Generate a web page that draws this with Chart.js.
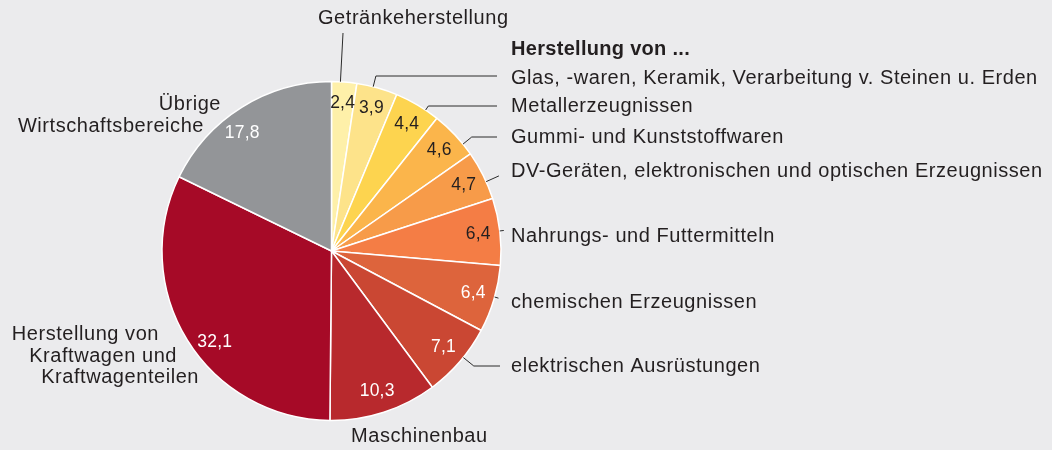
<!DOCTYPE html>
<html lang="de">
<head>
<meta charset="utf-8">
<title>Anteile der Wirtschaftsbereiche</title>
<script src="https://cdn.jsdelivr.net/npm/chart.js@4/dist/chart.umd.min.js"></script>
<style>
  html, body { margin: 0; padding: 0; background: #ebebed; }
  #wrap { width: 1052px; height: 450px; position: relative; }
</style>
</head>
<body>
<div id="wrap"><canvas id="pie" width="1052" height="450"></canvas></div>
<script>
// Anteile in Prozent, im Uhrzeigersinn ab 12 Uhr
const categoryLines = [
  ['Getränkeherstellung'],
  ['Glas, -waren, Keramik, Verarbeitung v. Steinen u. Erden'],
  ['Metallerzeugnissen'],
  ['Gummi- und Kunststoffwaren'],
  ['DV-Geräten, elektronischen und optischen Erzeugnissen'],
  ['Nahrungs- und Futtermitteln'],
  ['chemischen Erzeugnissen'],
  ['elektrischen Ausrüstungen'],
  ['Maschinenbau'],
  ['Herstellung von', 'Kraftwagen und', 'Kraftwagenteilen'],
  ['Übrige', 'Wirtschaftsbereiche']
];
const categories = categoryLines.map(l => l.join(' '));
const shares = [2.4, 3.9, 4.4, 4.6, 4.7, 6.4, 6.4, 7.1, 10.3, 32.1, 17.8];
const groupTitle = 'Herstellung von ...';

const colors = ['#fef0a9', '#fde38a', '#fdd44f', '#fbb54b', '#f79b49', '#f47d45',
                '#dd643c', '#ca4733', '#b8292d', '#a60a27', '#939598'];
const darkValue = [true, true, true, true, true, true, false, false, false, false, false];

// Beschriftungen: Textposition je Zeile, Führungslinie ab Anteil t im Segment
const labelLayout = [
  { rows: [[318, 24, 'left']], leader: { t: 0.35, toY: 33 } },
  { rows: [[511, 84, 'left']], leader: { t: 0.4, toY: 76, toX: 497 } },
  { rows: [[511, 112.3, 'left']], leader: { t: 0.7, toY: 106, toX: 497 } },
  { rows: [[511, 143.3, 'left']], leader: { t: 0.75, toY: 137, toX: 497 } },
  { rows: [[511, 177.3, 'left']], leader: { t: 0.64, len: 14 } },
  { rows: [[511, 241.7, 'left']], leader: { t: 0.49, len: 4 } },
  { rows: [[511, 308.3, 'left']], leader: { t: 0.47, len: 4 } },
  { rows: [[511, 371.7, 'left']], leader: { t: 0.43, toY: 366, toX: 500 } },
  { rows: [[351, 441.7, 'left']] },
  { rows: [[159, 340, 'right'], [177, 361.7, 'right'], [199, 383.3, 'right']] },
  { rows: [[221, 110, 'right'], [204, 131.7, 'right']] }
];
const titleRow = [511, 55.3];
const valueT = [0.5, 0.5, 0.5, 0.5, 0.5, 0.5, 0.5, 0.5, 0.5, 0.447, 0.42];

const FONT = '"Liberation Sans", Arial, Helvetica, sans-serif';
const TEXT = '#231f20';

const labelsPlugin = {
  id: 'pieLabels',
  afterDraw(chart) {
    const ctx = chart.ctx;
    const arcs = chart.getDatasetMeta(0).data;
    ctx.save();
    arcs.forEach((arc, i) => {
      const p = arc.getProps(['x', 'y', 'startAngle', 'endAngle', 'outerRadius'], true);
      const span = p.endAngle - p.startAngle;
      // Wert im Segment
      const va = p.startAngle + span * valueT[i];
      const vr = p.outerRadius * 0.872;
      ctx.font = '17.5px ' + FONT;
      ctx.letterSpacing = '0.2px';
      ctx.fillStyle = darkValue[i] ? TEXT : '#ffffff';
      ctx.textAlign = 'center';
      ctx.textBaseline = 'middle';
      ctx.fillText(shares[i].toFixed(1).replace('.', ','), p.x + vr * Math.cos(va), p.y + vr * Math.sin(va));

      // Führungslinie
      const lay = labelLayout[i];
      if (lay.leader) {
        const L = lay.leader;
        const a = p.startAngle + span * L.t;
        const dx = Math.cos(a), dy = Math.sin(a);
        const sx = p.x + p.outerRadius * dx, sy = p.y + p.outerRadius * dy;
        const s = L.len !== undefined ? L.len : (L.toY - sy) / dy;
        const ex = sx + s * dx, ey = sy + s * dy;
        ctx.beginPath();
        ctx.strokeStyle = '#2b2b2b';
        ctx.lineWidth = 1;
        ctx.moveTo(sx, sy);
        ctx.lineTo(ex, ey);
        if (L.toX !== undefined) ctx.lineTo(L.toX, ey);
        ctx.stroke();
      }

      // Kategorietext
      ctx.font = '20px ' + FONT;
      ctx.letterSpacing = '0.55px';
      ctx.fillStyle = TEXT;
      ctx.textBaseline = 'alphabetic';
      lay.rows.forEach((r, k) => {
        ctx.textAlign = r[2];
        ctx.fillText(categoryLines[i][k], r[0], r[1]);
      });
    });
    ctx.font = 'bold 20px ' + FONT;
    ctx.letterSpacing = '0.3px';
    ctx.textAlign = 'left';
    ctx.fillText(groupTitle, titleRow[0], titleRow[1]);
    ctx.restore();
  }
};

new Chart(document.getElementById('pie').getContext('2d'), {
  type: 'pie',
  data: {
    labels: categories,
    datasets: [{
      data: shares,
      backgroundColor: colors,
      borderColor: '#ffffff',
      borderWidth: 1.5
    }]
  },
  options: {
    responsive: false,
    animation: false,
    layout: { padding: { left: 131.5, right: 520.5, top: 80.75, bottom: 28.75 } },
    plugins: {
      legend: { display: false },
      tooltip: { enabled: false }
    }
  },
  plugins: [labelsPlugin]
});
</script>
</body>
</html>
